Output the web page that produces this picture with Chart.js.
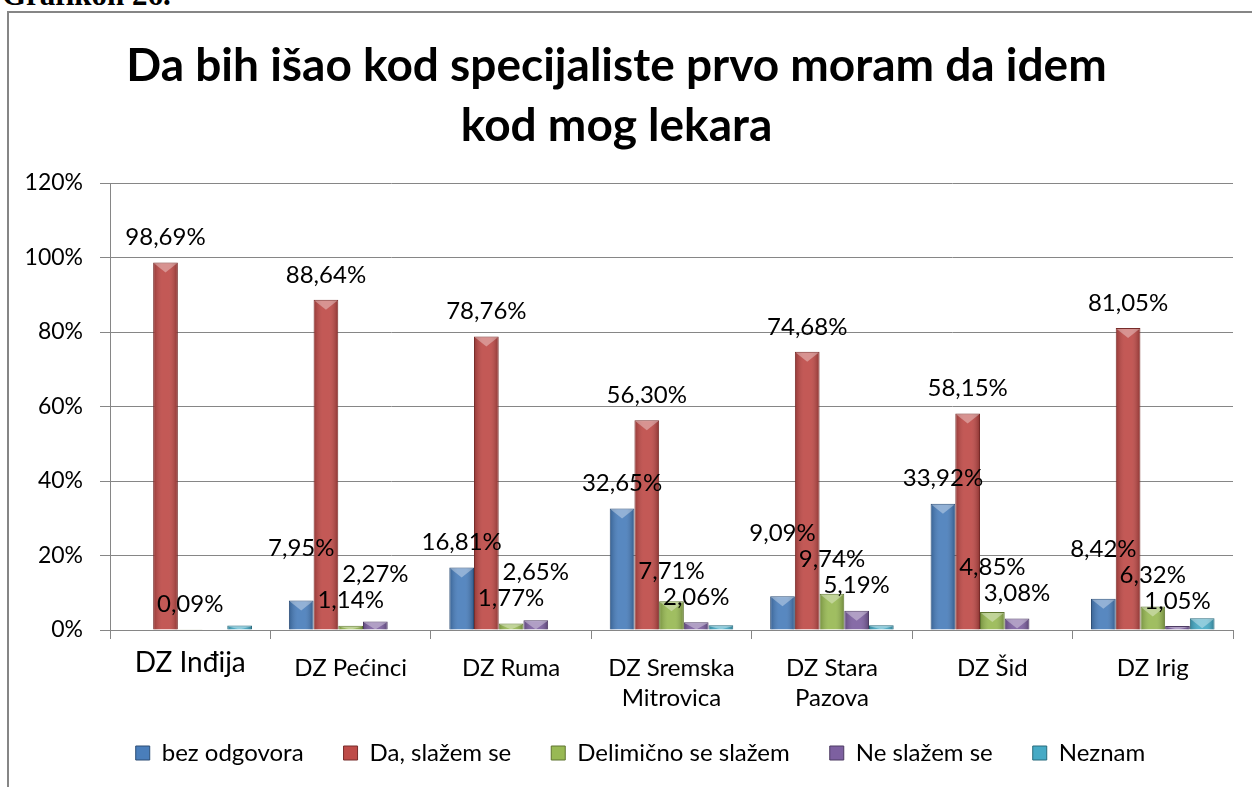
<!DOCTYPE html>
<html>
<head>
<meta charset="utf-8">
<script src="https://cdn.jsdelivr.net/npm/chart.js@4.4.1/dist/chart.umd.min.js"></script>
<style>
  html, body { margin: 0; padding: 0; background: #fff; overflow: hidden; }
  body { width: 1252px; height: 787px; position: relative; }
  #caption { position: absolute; left: 2px; top: -21px; font: bold 31px/31px "Liberation Serif", serif; color: #000; white-space: nowrap; }
  #frame { position: absolute; left: 7px; top: 11px; width: 1300px; height: 900px; border-left: 2px solid #868686; border-top: 2px solid #868686; }
  #chartA { position: absolute; left: 0; top: 0; }
</style>
</head>
<body>
<div id="caption">Grafikon 26.</div>
<div id="frame"></div>
<canvas id="chartA" width="1252" height="787"></canvas>
<script>
const categories = [['DZ Inđija'], 'DZ Pećinci', 'DZ Ruma', ['DZ Sremska', 'Mitrovica'], ['DZ Stara', 'Pazova'], 'DZ Šid', 'DZ Irig'];
const bezOdgovora = [0, 7.95, 16.81, 32.65, 9.09, 33.92, 8.42];
const daSlazem = [98.69, 88.64, 78.76, 56.30, 74.68, 58.15, 81.05];
const delimicno = [0.09, 1.14, 1.77, 7.71, 9.74, 4.85, 6.32];
const neSlazem = [0, 2.27, 2.65, 2.06, 5.19, 3.08, 1.05];
const neznam = [1.22, 0, 0, 1.28, 1.30, 0, 3.16];
const yTicks = [0, 20, 40, 60, 80, 100, 120];

Chart.defaults.font.family = 'Lato, Carlito, sans-serif';
Chart.defaults.color = '#000';

const fmt = v => v.toFixed(2).replace('.', ',') + '%';

// labels above the bars, pushed up when they would sit on each other
const valueLabels = {
    id: 'valueLabels',
    afterDatasetsDraw(chart) {
        const ctx = chart.ctx;
        const rank = [1, 2, 0, 0];
        ctx.save();
        ctx.font = '24px Lato, sans-serif';
        ctx.fillStyle = '#000';
        ctx.textAlign = 'center';
        ctx.textBaseline = 'middle';
        categories.forEach((c, i) => {
            const items = [];
            chart.data.datasets.forEach((ds, d) => {
                if (!ds.showValues) return;
                const v = ds.data[i];
                if (!v) return;
                const bar = chart.getDatasetMeta(d).data[i];
                items.push({d: d, v: v, x: bar.x, y: bar.y - 25});
            });
            items.sort((a, b) => rank[a.d] - rank[b.d] || a.v - b.v);
            let prev = Infinity;
            items.forEach(it => {
                const y = Math.min(it.y, prev - 26);
                ctx.fillText(fmt(it.v), it.x, y);
                prev = y;
            });
        });
        ctx.restore();
    },
};

// a bit of the bevelled look of the original bars
const bevel = {
    id: 'bevel',
    afterDatasetsDraw(chart) {
        const ctx = chart.ctx;
        ctx.save();
        chart.data.datasets.forEach((ds, d) => {
            chart.getDatasetMeta(d).data.forEach(bar => {
                const {x, y, base, width} = bar.getProps(['x', 'y', 'base', 'width'], true);
                const h = base - y;
                if (h < 2) return;
                const l = x - width / 2 + 1, r = x + width / 2 - 1;
                const g = ctx.createLinearGradient(l, 0, r, 0);
                g.addColorStop(0, 'rgba(0,0,0,0.18)');
                g.addColorStop(0.35, 'rgba(255,255,255,0.08)');
                g.addColorStop(0.65, 'rgba(255,255,255,0.08)');
                g.addColorStop(1, 'rgba(0,0,0,0.22)');
                ctx.fillStyle = g;
                ctx.fillRect(l, y + 1, r - l, h - 1);
                const t = Math.min(9, h - 1);
                ctx.fillStyle = 'rgba(255,255,255,0.35)';
                ctx.beginPath();
                ctx.moveTo(l, y + 1);
                ctx.lineTo(r, y + 1);
                ctx.lineTo(x, y + 1 + t);
                ctx.closePath();
                ctx.fill();
            });
        });
        ctx.restore();
    },
};

// let the two-line axis labels run past the axis box, and move the legend a little right
const nudge = {
    id: 'nudge',
    afterLayout(chart) {
        chart.scales.x.bottom += 40;
        chart.legend.left += 24;
        chart.legend.right += 24;
    },
};

const data = {
    labels: categories,
    datasets: [
        {label: 'bez odgovora', data: bezOdgovora, backgroundColor: '#4A7EBB', borderColor: '#2C4D75', showValues: true},
        {label: 'Da, slažem se', data: daSlazem, backgroundColor: '#BE4B48', borderColor: '#772C2A', showValues: true},
        {label: 'Delimično se slažem', data: delimicno, backgroundColor: '#98B954', borderColor: '#5F7530', showValues: true},
        {label: 'Ne slažem se', data: neSlazem, backgroundColor: '#7D60A0', borderColor: '#4D3B62', showValues: true},
        {label: 'Neznam', data: neznam, backgroundColor: '#46AAC5', borderColor: '#276A7C', showValues: false},
    ],
};
data.datasets.forEach(ds => {
    ds.borderWidth = 1;
    ds.categoryPercentage = 0.77;
    ds.barPercentage = 1.0;
});

const config = {
    type: 'bar',
    data: data,
    options: {
        responsive: false,
        animation: false,
        layout: {padding: {left: 0, right: 19, top: 0, bottom: 12}},
        plugins: {
            title: {
                display: true,
                text: ['Da bih išao kod specijaliste prvo moram da idem', 'kod mog lekara'],
                font: {size: 46, weight: 'bold', lineHeight: '60px'},
                color: '#000',
                padding: {top: 36, bottom: 27},
            },
            legend: {
                position: 'bottom',
                labels: {boxWidth: 14, boxHeight: 14, padding: 40, font: {size: 24}, color: '#000'},
            },
            tooltip: {enabled: false},
        },
        scales: {
            x: {
                grid: {drawOnChartArea: false, drawTicks: true, tickLength: 9, color: '#868686'},
                border: {color: '#868686'},
                ticks: {
                    padding: 14,
                    maxRotation: 0,
                    autoSkip: false,
                    font: ctx => ctx.index === 0 ? {size: 28, lineHeight: '20px'} : {size: 24, lineHeight: '30px'},
                },
                afterFit: scale => { scale.height = 71; },
            },
            y: {
                min: 0,
                max: 120,
                grid: {color: '#868686', tickLength: 10},
                border: {color: '#868686'},
                afterBuildTicks: scale => { scale.ticks = yTicks.map(v => ({value: v})); },
                ticks: {padding: 17, font: {size: 23}, callback: v => v + '%'},
                afterFit: scale => { scale.width = 110; },
            },
        },
    },
    plugins: [bevel, valueLabels, nudge],
};

const chartEle = document.getElementById('chartA').getContext('2d');
const chartA = new Chart(chartEle, config);
</script>
</body>
</html>
